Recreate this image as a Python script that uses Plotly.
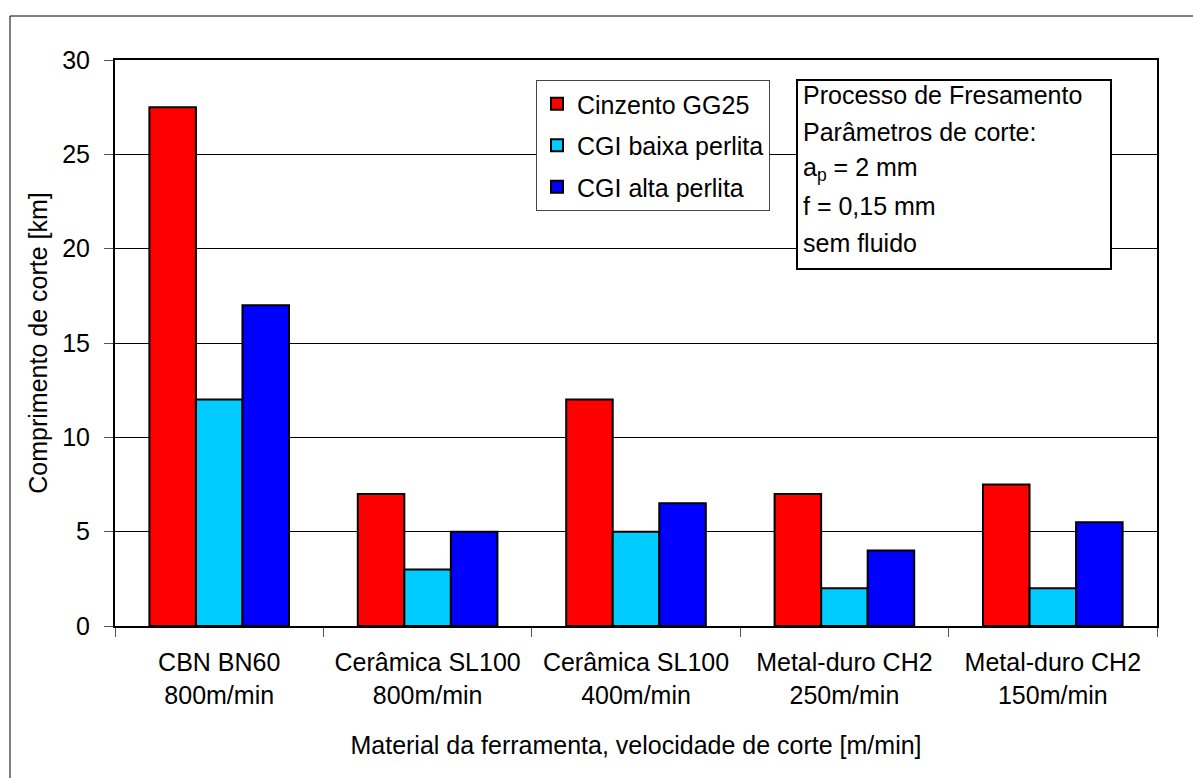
import plotly.graph_objects as go

# Tool material / cutting speed categories (two-line tick labels)
categories = [
    "CBN BN60<br>800m/min",
    "Cerâmica SL100<br>800m/min",
    "Cerâmica SL100<br>400m/min",
    "Metal-duro CH2<br>250m/min",
    "Metal-duro CH2<br>150m/min",
]

# Cutting length [km] per workpiece material
cinzento_gg25 = [27.5, 7.0, 12.0, 7.0, 7.5]
cgi_baixa_perlita = [12.0, 3.0, 5.0, 2.0, 2.0]
cgi_alta_perlita = [17.0, 5.0, 6.5, 4.0, 5.5]

series_names = ["Cinzento GG25", "CGI baixa perlita", "CGI alta perlita"]
series_colors = ["#FF0000", "#00CCFF", "#0000FF"]

info_lines = [
    "Processo de Fresamento",
    "Parâmetros de corte:",
    "a<sub>p</sub> = 2 mm",
    "f = 0,15 mm",
    "sem fluido",
]

W, H = 1193, 778
L, R, T, B = 115, 36, 60, 152
PW, PH = W - L - R, H - T - B
FONT = "Liberation Sans, Arial, sans-serif"


def px_x(px):
    return (px - L) / PW


def px_y(py):
    return (H - B - py) / PH


fig = go.Figure()
for name, vals, color in zip(series_names,
                             [cinzento_gg25, cgi_baixa_perlita, cgi_alta_perlita],
                             series_colors):
    fig.add_trace(go.Bar(
        x=categories, y=vals, name=name, legendgroup=name,
        marker=dict(color=color, line=dict(color="black", width=2)),
    ))

shapes = [
    # outer chart frame
    dict(type="rect", xref="paper", yref="paper",
         x0=px_x(10), y0=px_y(H + 20), x1=px_x(W + 20), y1=px_y(16),
         line=dict(color="black", width=1), layer="below"),
    # info box
    dict(type="rect", xref="paper", yref="paper",
         x0=px_x(797), y0=px_y(269), x1=px_x(1111), y1=px_y(80),
         line=dict(color="black", width=2), fillcolor="white", layer="above"),
]

annotations = []
line_centers = [95, 131.5, 168.5, 206, 243]
for txt, yc in zip(info_lines, line_centers):
    annotations.append(dict(
        text=txt, xref="paper", yref="paper", x=px_x(801), y=px_y(yc),
        xanchor="left", yanchor="middle", showarrow=False,
        font=dict(family=FONT, size=25, color="black"),
    ))

fig.update_layout(
    width=W, height=H,
    margin=dict(l=L, r=R, t=T, b=B, pad=0),
    paper_bgcolor="white", plot_bgcolor="white",
    font=dict(family=FONT, size=25, color="black"),
    barmode="group", bargap=0.33, bargroupgap=0,
    showlegend=True,
    legend=dict(
        x=px_x(536), y=px_y(80), xanchor="left", yanchor="top",
        bordercolor="#444", borderwidth=1, bgcolor="white",
        font=dict(family=FONT, size=25, color="black"),
        tracegroupgap=6, itemclick=False,
        entrywidth=196, entrywidthmode="pixels",
    ),
    shapes=shapes,
    annotations=annotations,
    xaxis=dict(
        tickson="boundaries", ticks="outside", ticklen=9, tickcolor="#555",
        showline=True, linecolor="black", linewidth=2, mirror=True,
        showgrid=False,
        tickfont=dict(family=FONT, size=25),
        ticklabelstandoff=13,
        title=dict(text="Material da ferramenta, velocidade de corte [m/min]",
                   font=dict(family=FONT, size=25), standoff=29),
    ),
    yaxis=dict(
        range=[0, 30], dtick=5, tick0=0,
        ticks="outside", ticklen=9, tickcolor="#555",
        showline=True, linecolor="black", linewidth=2, mirror=True,
        showgrid=True, gridcolor="black", gridwidth=1,
        zeroline=False,
        tickfont=dict(family=FONT, size=25),
        ticklabelstandoff=9,
        title=dict(text="Comprimento de corte [km]",
                   font=dict(family=FONT, size=25), standoff=7),
    ),
)

fig.write_html("out.html")
